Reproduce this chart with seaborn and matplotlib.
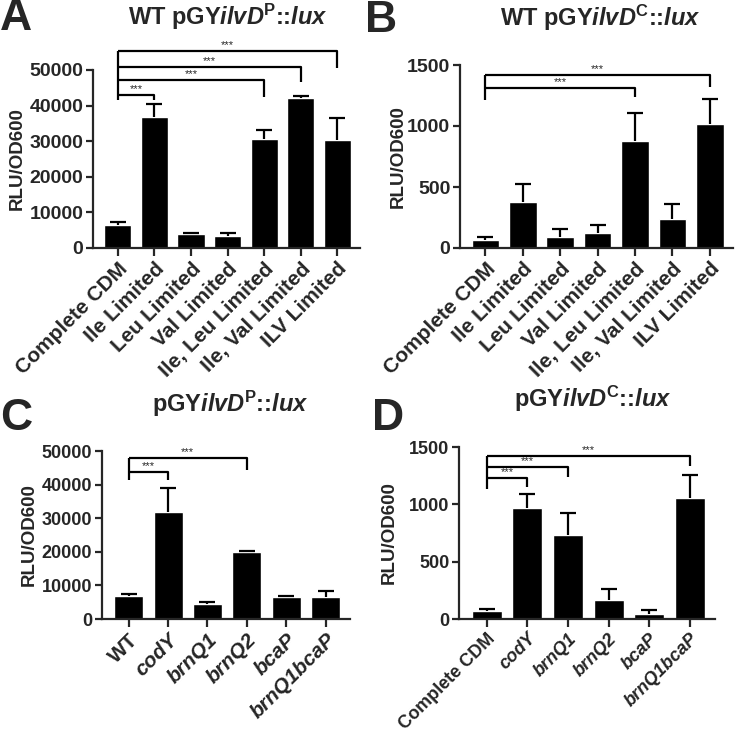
import numpy as np
import matplotlib
matplotlib.use("Agg")
import matplotlib.pyplot as plt
import seaborn as sns

# panel A - WT pGY ilvD-P::lux
cats_A = ["Complete CDM", "Ile Limited", "Leu Limited", "Val Limited",
          "Ile, Leu Limited", "Ile, Val Limited", "ILV Limited"]
vals_A = [6600, 36900, 4000, 3400, 30700, 42200, 30400]
err_A = [600, 3600, 100, 800, 2500, 500, 6000]
# (from, to, line height, right drop end)
brk_A = [(0, 1, 43000, 41600), (0, 4, 47200, 42500),
         (0, 5, 50900, 46700), (0, 6, 55400, 50500)]
left_A = 41600

# panel B - WT pGY ilvD-C::lux
cats_B = cats_A
vals_B = [68, 376, 90, 123, 877, 240, 1017]
err_B = [19, 147, 65, 62, 227, 122, 207]
brk_B = [(0, 4, 1309, 1240), (0, 6, 1418, 1322)]
left_B = 1213

# panel C - pGY ilvD-P::lux mutants
cats_C = ["WT", "codY", "brnQ1", "brnQ2", "bcaP", "brnQ1bcaP"]
vals_C = [6900, 31800, 4500, 19800, 6400, 6400]
err_C = [500, 7100, 500, 500, 500, 1800]
brk_C = [(0, 1, 43800, 41400), (0, 3, 47900, 44400)]
left_C = 41400

# panel D - pGY ilvD-C::lux mutants
cats_D = ["Complete CDM", "codY", "brnQ1", "brnQ2", "bcaP", "brnQ1bcaP"]
vals_D = [68, 965, 734, 170, 47, 1057]
err_D = [23, 125, 190, 88, 35, 200]
brk_D = [(0, 1, 1230, 1154), (0, 2, 1328, 1236), (0, 5, 1421, 1330)]
left_D = 1134

italic_labels = ["codY", "brnQ1", "brnQ2", "bcaP", "brnQ1bcaP"]

sns.set_style("ticks")
plt.rcParams['font.family'] = ['Liberation Sans', 'DejaVu Sans']
plt.rcParams['font.weight'] = 'bold'
plt.rcParams['mathtext.fontset'] = 'custom'
plt.rcParams['mathtext.rm'] = 'Liberation Sans:bold'
plt.rcParams['mathtext.bf'] = 'Liberation Sans:bold'
plt.rcParams['mathtext.it'] = 'Liberation Sans:italic:bold'
plt.rcParams['mathtext.bfit'] = 'Liberation Sans:italic:bold'

W, H = 735, 732
fig = plt.figure(figsize=(W / 100, H / 100), dpi=100)


def make_ax(l, r, top, bot):
    return fig.add_axes([l / W, 1 - bot / H, (r - l) / W, (bot - top) / H])


def panel(ax, cats, vals, err, brks, left_y, ymax, ystep, yfs, xfs, lab_x):
    sns.barplot(x=cats, y=vals, ax=ax, color="black", saturation=1,
                width=0.74, errorbar=None)
    pos = np.arange(len(cats))
    _, caps, _ = ax.errorbar(pos, vals, yerr=[np.zeros(len(err)), err],
                             fmt="none", ecolor="black", elinewidth=1.6,
                             capsize=5.5, capthick=1.6)
    caps[0].set_visible(False)
    ax.set_xlim(-0.68, len(cats) - 1 + 0.62)
    ax.set_ylim(0, ymax)
    ax.set_yticks(np.arange(0, ymax + 1, ystep))
    sns.despine(ax=ax)
    for s in ["left", "bottom"]:
        ax.spines[s].set_linewidth(1.6)
    ax.tick_params(axis="both", width=1.6, length=5)
    ax.tick_params(axis="y", labelsize=yfs, pad=2)
    ax.tick_params(axis="x", length=6, pad=2)
    ax.set_xticks(pos)
    ax.set_xticklabels(cats, rotation=45, ha="right", rotation_mode="anchor",
                       fontsize=xfs, fontweight="bold")
    for t in ax.get_xticklabels():
        if t.get_text() in italic_labels:
            t.set_style("italic")
    for t in ax.get_yticklabels():
        t.set_fontweight("bold")
    ax.set_ylabel("RLU/OD600", fontsize=13.5, fontweight="bold")
    # y label right edge at a given pixel column
    bbox = ax.get_position()
    ax.yaxis.set_label_coords((lab_x / W - bbox.x0) / bbox.width, 0.5)
    top = max(b[2] for b in brks)
    ax.plot([0, 0], [left_y, top], color="black", lw=1.6, clip_on=False,
            solid_capstyle="butt")
    for a, b, y, drop in brks:
        ax.plot([a, b, b], [y, y, drop], color="black", lw=1.6,
                clip_on=False, solid_capstyle="butt")
        ax.text((a + b) / 2, y + ymax * 0.004, "***", ha="center",
                va="bottom", fontsize=8, fontweight="normal")


axA = make_ax(93, 360, 70, 248)
panel(axA, cats_A, vals_A, err_A, brk_A, left_A, 50000, 10000, 14, 15, 26)
axB = make_ax(460, 733, 65, 248)
panel(axB, cats_B, vals_B, err_B, brk_B, left_B, 1500, 500, 14, 15, 407)
axC = make_ax(102, 350, 451, 619)
panel(axC, cats_C, vals_C, err_C, brk_C, left_C, 50000, 10000, 13, 15, 38)
axD = make_ax(459, 715, 447, 619)
panel(axD, cats_D, vals_D, err_D, brk_D, left_D, 1500, 500, 13, 13, 398)

# titles
title_kw = dict(ha="center", va="center", fontsize=17, fontweight="bold")
fig.text(228 / W, 1 - 17 / H, r"WT pGY$\mathbfit{ilvD}^{\mathbf{P}}$::$\mathbfit{lux}$", **title_kw)
fig.text(600 / W, 1 - 18 / H, r"WT pGY$\mathbfit{ilvD}^{\mathbf{C}}$::$\mathbfit{lux}$", **title_kw)
fig.text(230 / W, 1 - 404 / H, r"pGY$\mathbfit{ilvD}^{\mathbf{P}}$::$\mathbfit{lux}$", **title_kw)
fig.text(593 / W, 1 - 399 / H, r"pGY$\mathbfit{ilvD}^{\mathbf{C}}$::$\mathbfit{lux}$", **title_kw)

# panel letters
let_kw = dict(ha="left", va="center", fontsize=32, fontweight="bold")
fig.text(0 / W, 1 - 19 / H, "A", **let_kw)
fig.text(365 / W, 1 - 20 / H, "B", **let_kw)
fig.text(0 / W, 1 - 419 / H, "C", **let_kw)
fig.text(372 / W, 1 - 419 / H, "D", **let_kw)

fig.savefig("out.png", dpi=100)
